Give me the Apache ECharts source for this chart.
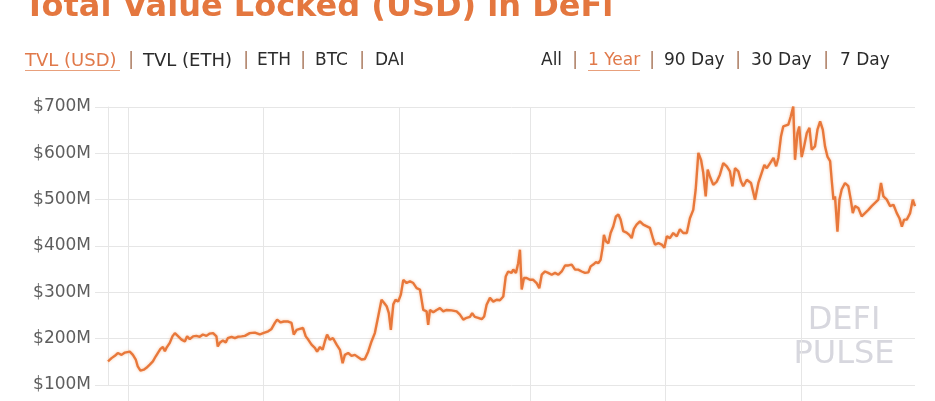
<!DOCTYPE html>
<html><head><meta charset="utf-8">
<script src="https://cdn.jsdelivr.net/npm/echarts@6/dist/echarts.min.js"></script>
<style>html,body{margin:0;padding:0;background:#fff;overflow:hidden}#c{width:935px;height:401px}</style>
</head><body><div id="c"></div><script>
// Day offsets from the first day (2018-08-23, UTC) and TVL in $M
const startDate = Date.UTC(2018, 7, 23);
const tvlAugToOct2018 = [[0.1,151],[1.7,158],[3.2,163],[4.5,169],[6.2,165],[7.7,170],[9.9,172],[11.3,165],[12.6,155],[13.5,140],[14.7,131],[16.2,133],[17.4,137],[18.9,144],[20.3,151],[21.6,162],[22.5,169],[23.7,178],[24.8,182],[25.7,173],[26.4,180],[27.9,191],[29.1,205],[30.2,212],[31.5,206],[33.2,198],[34.7,194],[35.7,205],[36.9,199],[38.4,205],[39.9,206],[41.4,204],[42.8,209],[44.4,206],[45.9,211],[47.4,212],[48.9,205],[49.5,183],[50.4,191],[51.8,196],[53.1,192],[54.0,201],[55.7,204],[57.2,201],[58.5,204],[60.2,205]];
const tvlOctToJan = [[61.7,206],[63.9,212],[66.2,213],[68.4,209],[69.9,212],[72.2,216],[73.7,221],[75.2,234],[76.2,241],[77.8,235],[79.2,237],[81.2,237],[82.7,234],[83.7,209],[85.0,219],[86.4,221],[87.9,223],[89.1,205],[90.2,198],[91.7,187],[93.2,180],[94.2,172],[95.5,182],[96.7,176],[97.7,194],[98.7,209],[99.9,198],[101.4,201],[103.0,187],[104.5,176],[105.7,147],[106.7,165],[108.2,169],[109.7,163],[111.2,165],[112.7,160],[114.2,155],[115.7,156],[117.2,172],[118.7,194],[120.2,212],[121.7,248],[123.2,284],[124.4,277],[125.5,270],[126.5,255],[127.4,219],[128.5,274],[129.5,284],[130.7,280]];
const tvlJanToMar2019 = [[131.9,295],[133.0,327],[134.5,320],[136.0,324],[137.5,320],[139.0,309],[140.5,306],[142.0,262],[143.5,259],[144.2,230],[145.0,262],[146.5,257],[148.0,262],[149.5,266],[151.0,259],[152.5,262],[154.7,261],[157.0,259],[158.5,252],[160.0,241],[161.5,245],[163.0,247],[164.0,255],[165.2,247],[166.7,245],[168.3,242],[169.4,248],[170.5,273],[172.0,288],[173.5,280],[175.0,284],[176.5,283],[178.0,291],[179.1,334],[180.2,345],[181.7,342],[182.5,349],[183.7,342],[184.7,363],[185.5,392],[186.3,306],[187.3,331],[188.5,331]];
const tvlMarToMay = [[190.0,327],[191.5,327],[193.0,320],[194.2,309],[195.3,338],[196.8,345],[198.2,342],[199.8,338],[201.3,342],[202.8,338],[204.3,345],[205.8,358],[207.3,358],[208.8,360],[210.3,349],[211.7,349],[213.3,345],[214.8,342],[216.3,343],[217.3,356],[218.5,360],[219.7,365],[220.8,363],[221.8,370],[222.7,396],[223.3,424],[224.2,410],[225.3,406],[226.3,428],[227.5,442],[228.7,464],[229.8,468],[230.8,457],[232.0,432],[233.5,429],[234.7,424],[235.8,417],[236.8,437],[238.0,446],[239.5,453],[241.0,446],[244.0,439],[245.5,414],[246.3,403],[247.8,406],[249.3,403],[250.5,396]];
const tvlMayToJul = [[251.6,421],[253.0,417],[254.5,428],[256.1,421],[257.5,436],[259.0,428],[260.6,428],[262.0,460],[263.5,478],[264.6,522],[265.8,601],[267.0,586],[268.0,558],[269.1,507],[270.0,565],[271.0,550],[272.5,532],[274.1,539],[275.5,554],[277.0,579],[278.6,572],[280.0,561],[281.1,529],[282.3,568],[283.8,561],[285.0,539],[286.0,529],[287.6,543],[289.5,536],[291.3,500],[292.8,536],[294.3,558],[295.5,575],[296.6,568],[298.1,579],[299.6,590],[300.8,572],[301.8,590],[303.0,637],[304.0,658],[304.8,662],[306.3,662],[307.4,680],[308.5,701],[309.3,586],[310.4,644],[311.2,658]];
const tvlJulToAug = [[312.3,592],[313.4,615],[314.6,644],[315.8,655],[316.8,608],[318.3,615],[319.4,651],[320.6,669],[321.8,651],[322.8,615],[323.9,593],[325.1,583],[325.8,543],[326.6,500],[327.3,507],[328.4,431],[329.3,500],[330.3,522],[331.8,536],[333.3,529],[334.4,500],[335.3,471],[336.3,486],[337.8,482],[339.3,464],[340.8,471],[342.3,478],[343.8,486],[345.3,493],[346.8,500],[348.0,536],[349.1,507],[350.6,500],[352.1,486],[353.6,489],[355.1,471],[356.3,460],[357.4,442],[358.4,457],[359.6,457],[361.1,471],[362.3,500],[363.3,486]];
const yMin = 100, yMax = 700, yStep = 100;
const xTickDates = [[2018, 8, 1], [2018, 10, 1], [2019, 0, 1], [2019, 2, 1], [2019, 4, 1], [2019, 6, 1]];
const titleText = 'Total Value Locked (USD) in DeFi';
const leftLinks = ['TVL (USD)', 'TVL (ETH)', 'ETH', 'BTC', 'DAI'];
const rightLinks = ['All', '1 Year', '90 Day', '30 Day', '7 Day'];

const DAY = 86400000;
const seriesData = [].concat(tvlAugToOct2018, tvlOctToJan, tvlJanToMar2019, tvlMarToMay, tvlMayToJul, tvlJulToAug)
  .map(p => [startDate + p[0] * DAY, p[1]]);
const xTicks = xTickDates.map(d => Date.UTC(d[0], d[1], d[2]));

const GRID = '#e6e6e6';
const ORANGE = '#e0794a';
const font = 'DejaVu Sans';

// header link texts
const leftX = [25, 143, 257, 315, 375];
const leftPipes = [131, 246, 303, 362];
const rightX = [541, 588, 664, 751, 840];
const rightPipes = [575, 652, 738, 826];
const graphics = [];
function txt(x, y, s, color, size, extra) {
  graphics.push(Object.assign({ type: 'text', x: x, y: y, silent: true,
    style: Object.assign({ text: s, fill: color, font: size + 'px "' + font + '"', verticalAlign: 'middle' }, extra || {}) }));
}
leftLinks.forEach((s, i) => txt(leftX[i], 61, s, i === 0 ? ORANGE : '#2b2b2b', i < 2 ? 18 : 17));
leftPipes.forEach(x => txt(x, 61, '|', '#a77458', 17, { align: 'center' }));
rightLinks.forEach((s, i) => txt(rightX[i], 61, s, i === 1 ? ORANGE : '#2b2b2b', 17));
rightPipes.forEach(x => txt(x, 61, '|', '#a77458', 17, { align: 'center' }));
graphics.push({ type: 'line', silent: true, shape: { x1: 25, y1: 70.5, x2: 120, y2: 70.5 }, style: { stroke: '#e8a07c', lineWidth: 1 } });
graphics.push({ type: 'line', silent: true, shape: { x1: 588, y1: 70.5, x2: 640, y2: 70.5 }, style: { stroke: '#e8a07c', lineWidth: 1 } });
// title (cut off at top)
graphics.push({ type: 'text', x: 24, y: 8, silent: true,
  style: { text: titleText, fill: '#e4773f', font: 'bold 32px "' + font + '"', verticalAlign: 'middle' } });
// watermark
graphics.push({ type: 'text', x: 844, y: 321, silent: true, z: 0,
  style: { text: 'DEFI', fill: '#d7d7de', font: '32px "' + font + '"', align: 'center', verticalAlign: 'middle' } });
graphics.push({ type: 'text', x: 844, y: 355, silent: true, z: 0,
  style: { text: 'PULSE', fill: '#d7d7de', font: '32px "' + font + '"', align: 'center', verticalAlign: 'middle' } });

const chart = echarts.init(document.getElementById('c'), null, { renderer: 'canvas' });
chart.setOption({
  animation: false,
  useUTC: true,
  backgroundColor: '#fff',
  grid: { left: 108, right: 20, top: 107, bottom: 16, containLabel: false },
  xAxis: {
    type: 'time', min: 'dataMin', max: 'dataMax', splitNumber: 5,
    axisLine: { show: false },
    axisTick: { show: true, length: 16, customValues: xTicks, lineStyle: { color: GRID } },
    axisLabel: { show: false },
    splitLine: { show: true, lineStyle: { color: GRID, width: 1 } }
  },
  yAxis: {
    type: 'value', min: yMin, max: yMax, interval: yStep,
    axisLine: { show: true, lineStyle: { color: GRID } },
    axisTick: { show: true, length: 13, lineStyle: { color: GRID } },
    axisLabel: { formatter: v => '$' + v + 'M', color: '#5e5e5e', fontSize: 17, fontFamily: font, margin: 17 },
    splitLine: { show: true, lineStyle: { color: GRID, width: 1 } }
  },
  graphic: graphics,
  series: [{
    type: 'line', data: seriesData, showSymbol: false, z: 3,
    lineStyle: { color: '#e8783b', width: 2.4, shadowColor: 'rgba(240,150,90,0.55)', shadowBlur: 3 }
  }]
});
</script></body></html>
